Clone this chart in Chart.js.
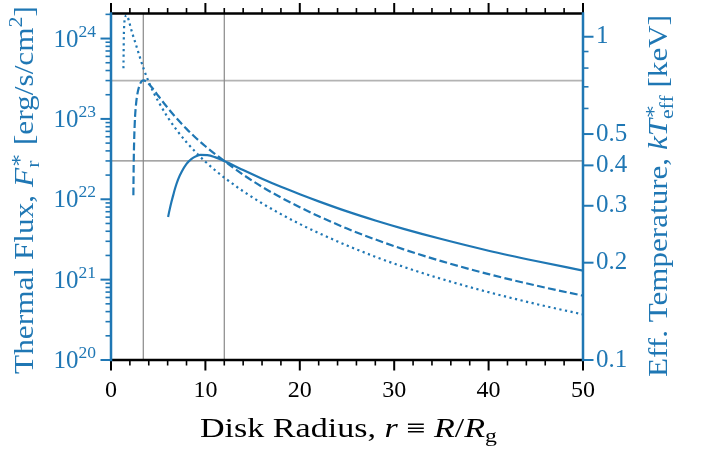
<!DOCTYPE html>
<html>
<head>
<meta charset="utf-8">
<script src="https://cdn.jsdelivr.net/npm/chart.js@4.4.0/dist/chart.umd.min.js"></script>
<style>
  html, body { margin: 0; padding: 0; background: #fff; }
  canvas { display: block; }
</style>
</head>
<body>
<canvas id="fluxChart" width="704" height="449"></canvas>
<script>
// radius in R_g, and log10 of the thermal flux
const rSolid = [6.05, 6.2, 6.4, 6.6, 6.8, 7.1, 7.5, 8.0, 8.5, 9.0, 9.5, 10.2, 11.0, 12, 14, 16, 18, 20, 22, 25, 28, 31, 35, 40, 45, 50];
const logFSolid = [21.78, 21.865, 21.965, 22.055, 22.14, 22.245, 22.345, 22.44, 22.50, 22.535, 22.553, 22.55, 22.525, 22.477, 22.363, 22.256, 22.155, 22.062, 21.974, 21.849, 21.736, 21.632, 21.505, 21.36, 21.232, 21.113];

const rDashed = [2.37, 2.39, 2.42, 2.47, 2.55, 2.65, 2.75, 3.0, 3.3, 3.45, 3.8, 4.2, 4.6, 5.0, 6.0, 7.0, 8.0, 9.0, 10.0, 11.0, 12, 14, 16, 18, 20, 22, 25, 28, 31, 35, 40, 45, 50];
const logFDashed = [22.05, 22.3, 22.55, 22.8, 23.03, 23.18, 23.28, 23.41, 23.475, 23.48, 23.46, 23.41, 23.351, 23.288, 23.138, 23.001, 22.876, 22.763, 22.66, 22.565, 22.477, 22.306, 22.155, 22.022, 21.901, 21.789, 21.636, 21.50, 21.377, 21.23, 21.069, 20.927, 20.80];

const rDotted = [1.32, 1.34, 1.36, 1.40, 1.5, 1.6, 1.75, 1.9, 2.1, 2.3, 2.6, 3.0, 3.5, 4.0, 4.5, 5.0, 6.0, 7.0, 8.0, 9.0, 10, 11, 12, 14, 16, 18, 20, 22, 25, 28, 31, 35, 40, 45, 50];
const logFDotted = [23.63, 23.85, 24.03, 24.17, 24.26, 24.29, 24.27, 24.22, 24.13, 24.05, 23.94, 23.79, 23.61, 23.46, 23.33, 23.22, 23.022, 22.855, 22.71, 22.582, 22.467, 22.364, 22.27, 22.10, 21.95, 21.815, 21.692, 21.58, 21.425, 21.285, 21.159, 21.009, 20.844, 20.698, 20.567];

// grey guide lines
const refRadii = [3.42, 12];
const refFluxes = [3e23, 3e22];

// axes
const rMin = 0, rMax = 50;
const fluxMin = 1e20, fluxMax = 2.05e24;
const tempMin = 0.1, tempMax = 1.18;
const rTicks = [0, 10, 20, 30, 40, 50];
const fluxTicks = [1e20, 1e21, 1e22, 1e23, 1e24];
const tempTicks = [0.1, 0.2, 0.3, 0.4, 0.5, 1];
const tempMinorTicks = [0.6, 0.7, 0.8, 0.9];

const BLUE = '#1f77b4';
const SERIF = '"Liberation Serif", "DejaVu Serif", serif';

function toPoints(rs, logs) {
    return rs.map((r, i) => ({x: r, y: Math.pow(10, logs[i])}));
}

// ---- little rich-text helper (super/subscripts) ----
function isScript(p) { return p.sup !== undefined || p.sub !== undefined; }

function measureParts(ctx, parts, size) {
    let w = 0;
    parts.forEach(p => {
        if (isScript(p)) {
            ctx.font = (size * 0.7) + 'px ' + SERIF;
            p.w = Math.max(ctx.measureText(p.sup || '').width, ctx.measureText(p.sub || '').width);
        } else {
            ctx.font = (p.it ? 'italic ' : '') + size + 'px ' + SERIF;
            p.w = ctx.measureText(p.t).width;
        }
        w += p.w;
    });
    return w;
}

function drawParts(ctx, parts, size, x, y, opts) {
    ctx.save();
    ctx.translate(x, y);
    if (opts.rotate) ctx.rotate(opts.rotate);
    let w = measureParts(ctx, parts, size);
    if (opts.width) ctx.scale(opts.width / w, 1);
    let cx = opts.align === 'center' ? -w / 2 : (opts.align === 'right' ? -w : 0);
    ctx.fillStyle = opts.color;
    ctx.textAlign = 'left';
    ctx.textBaseline = 'alphabetic';
    parts.forEach(p => {
        if (isScript(p)) {
            ctx.font = (size * 0.7) + 'px ' + SERIF;
            if (p.sup !== undefined) ctx.fillText(p.sup, cx, -size * 0.40);
            if (p.sub !== undefined) ctx.fillText(p.sub, cx, size * (p.sup !== undefined ? 0.24 : 0.18));
        } else {
            ctx.font = (p.it ? 'italic ' : '') + size + 'px ' + SERIF;
            ctx.fillText(p.t, cx, 0);
        }
        cx += p.w;
    });
    ctx.restore();
}

// spines, tick marks, log labels and axis titles drawn matplotlib-style
const axesDecor = {
    id: 'axesDecor',
    afterDraw(chart) {
        let ctx = chart.ctx;
        let a = chart.chartArea;
        let sx = chart.scales.x, sy = chart.scales.y, st = chart.scales.y2;
        const MAJ = 10.5, MIN = 5.5;

        ctx.save();
        ctx.lineCap = 'butt';

        // x ticks, bottom and top
        ctx.strokeStyle = '#000';
        for (let v = rMin; v <= rMax; v += 2) {
            let px = sx.getPixelForValue(v);
            let len = (v % 10 === 0) ? MAJ : MIN;
            ctx.lineWidth = (v % 10 === 0) ? 2 : 1.6;
            ctx.beginPath();
            ctx.moveTo(px, a.bottom); ctx.lineTo(px, a.bottom + len);
            ctx.moveTo(px, a.top); ctx.lineTo(px, a.top - len);
            ctx.stroke();
        }

        // left flux ticks
        ctx.strokeStyle = BLUE;
        for (let e = 20; e <= 24; e++) {
            for (let m = 1; m <= 9; m++) {
                let v = m * Math.pow(10, e);
                if (v > fluxMax * 1.0001) continue;
                let py = sy.getPixelForValue(v);
                ctx.lineWidth = m === 1 ? 2 : 1.6;
                ctx.beginPath();
                ctx.moveTo(a.left, py); ctx.lineTo(a.left - (m === 1 ? MAJ : MIN), py);
                ctx.stroke();
            }
        }
        // right temperature ticks
        tempTicks.concat(tempMinorTicks).forEach(v => {
            let py = st.getPixelForValue(v);
            let major = tempTicks.includes(v);
            ctx.lineWidth = major ? 2 : 1.6;
            ctx.beginPath();
            ctx.moveTo(a.right, py); ctx.lineTo(a.right + (major ? MAJ : MIN), py);
            ctx.stroke();
        });

        // spines
        ctx.lineWidth = 2.5;
        ctx.strokeStyle = '#000';
        ctx.beginPath();
        ctx.moveTo(a.left, a.top); ctx.lineTo(a.right, a.top);
        ctx.moveTo(a.left, a.bottom); ctx.lineTo(a.right, a.bottom);
        ctx.stroke();
        ctx.strokeStyle = BLUE;
        ctx.beginPath();
        ctx.moveTo(a.left, a.top - 1.25); ctx.lineTo(a.left, a.bottom + 1.25);
        ctx.moveTo(a.right, a.top - 1.25); ctx.lineTo(a.right, a.bottom + 1.25);
        ctx.stroke();

        // 10^n labels
        fluxTicks.forEach(v => {
            let py = sy.getPixelForValue(v);
            let e = Math.round(Math.log10(v));
            drawParts(ctx, [{t: '10'}, {sup: String(e)}], 25, a.left - 15, py + 8,
                {align: 'right', color: BLUE});
        });

        // axis titles
        drawParts(ctx, [{t: 'Thermal Flux, '}, {t: 'F', it: true}, {sup: '\u2217', sub: 'r'},
            {t: ' [erg/s/cm'}, {sup: '2'}, {t: ']'}], 27, 33, 190,
            {align: 'center', rotate: -Math.PI / 2, width: 368, color: BLUE});
        drawParts(ctx, [{t: 'Eff. Temperature, '}, {t: 'kT', it: true}, {sup: '\u2217', sub: 'eff'},
            {t: ' [keV]'}], 27, 667, 196,
            {align: 'center', rotate: -Math.PI / 2, width: 362, color: BLUE});
        drawParts(ctx, [{t: 'Disk Radius, '}, {t: 'r', it: true}, {t: ' \u2261 '}, {t: 'R', it: true},
            {t: '/'}, {t: 'R', it: true}, {sub: 'g'}], 27, 348.5, 437,
            {align: 'center', width: 297, color: '#000'});

        ctx.restore();
    }
};

const guide = (pts, color, w) => ({
    data: pts, borderColor: color, borderWidth: w, pointRadius: 0, tension: 0, fill: false
});

const curve = (rs, logs, dash) => ({
    data: toPoints(rs, logs),
    borderColor: BLUE,
    borderWidth: 2.2,
    borderDash: dash,
    borderCapStyle: 'butt',
    pointRadius: 0,
    cubicInterpolationMode: 'monotone',
    fill: false
});

// fixed box sizes so the plot area lands where the figure has it
const fixBox = (w, h) => (s) => {
    if (w) s.width = w;
    if (h) s.height = h;
    s.paddingTop = 0; s.paddingBottom = 0; s.paddingLeft = 0; s.paddingRight = 0;
};

let chart = new Chart(document.getElementById('fluxChart'), {
    type: 'line',
    data: {
        datasets: [
            curve(rSolid, logFSolid, []),
            curve(rDashed, logFDashed, [7.8, 3.4]),
            curve(rDotted, logFDotted, [2.2, 3.5]),
            guide([{x: refRadii[0], y: fluxMin}, {x: refRadii[0], y: fluxMax}], '#888', 1.2),
            guide([{x: refRadii[1], y: fluxMin}, {x: refRadii[1], y: fluxMax}], '#888', 1.2),
            guide([{x: rMin, y: refFluxes[0]}, {x: rMax, y: refFluxes[0]}], '#b3b3b3', 1.8),
            guide([{x: rMin, y: refFluxes[1]}, {x: rMax, y: refFluxes[1]}], '#888', 1.2)
        ]
    },
    options: {
        responsive: false,
        animation: false,
        devicePixelRatio: 1,
        layout: { padding: { top: 13.5, left: 0, right: 0, bottom: 0 } },
        plugins: {
            legend: { display: false },
            tooltip: { enabled: false }
        },
        scales: {
            x: {
                type: 'linear',
                min: rMin, max: rMax,
                afterFit: fixBox(0, 89),
                afterBuildTicks: (s) => { s.ticks = rTicks.map(v => ({value: v})); },
                grid: { display: false, drawTicks: false },
                border: { display: false },
                ticks: {
                    color: '#000',
                    font: { family: 'Liberation Serif', size: 24 },
                    padding: 16,
                    maxRotation: 0,
                    autoSkip: false
                }
            },
            y: {
                type: 'logarithmic',
                position: 'left',
                min: fluxMin, max: fluxMax,
                afterFit: fixBox(111, 0),
                grid: { display: false, drawTicks: false },
                border: { display: false },
                ticks: { display: false }
            },
            y2: {
                type: 'logarithmic',
                position: 'right',
                min: tempMin, max: tempMax,
                afterFit: fixBox(121, 0),
                afterBuildTicks: (s) => { s.ticks = tempTicks.map(v => ({value: v})); },
                grid: { display: false, drawTicks: false },
                border: { display: false },
                ticks: {
                    color: BLUE,
                    font: { family: 'Liberation Serif', size: 25 },
                    padding: 13,
                    autoSkip: false,
                    callback: (v) => String(v)
                }
            }
        }
    },
    plugins: [axesDecor]
});
</script>
</body>
</html>
